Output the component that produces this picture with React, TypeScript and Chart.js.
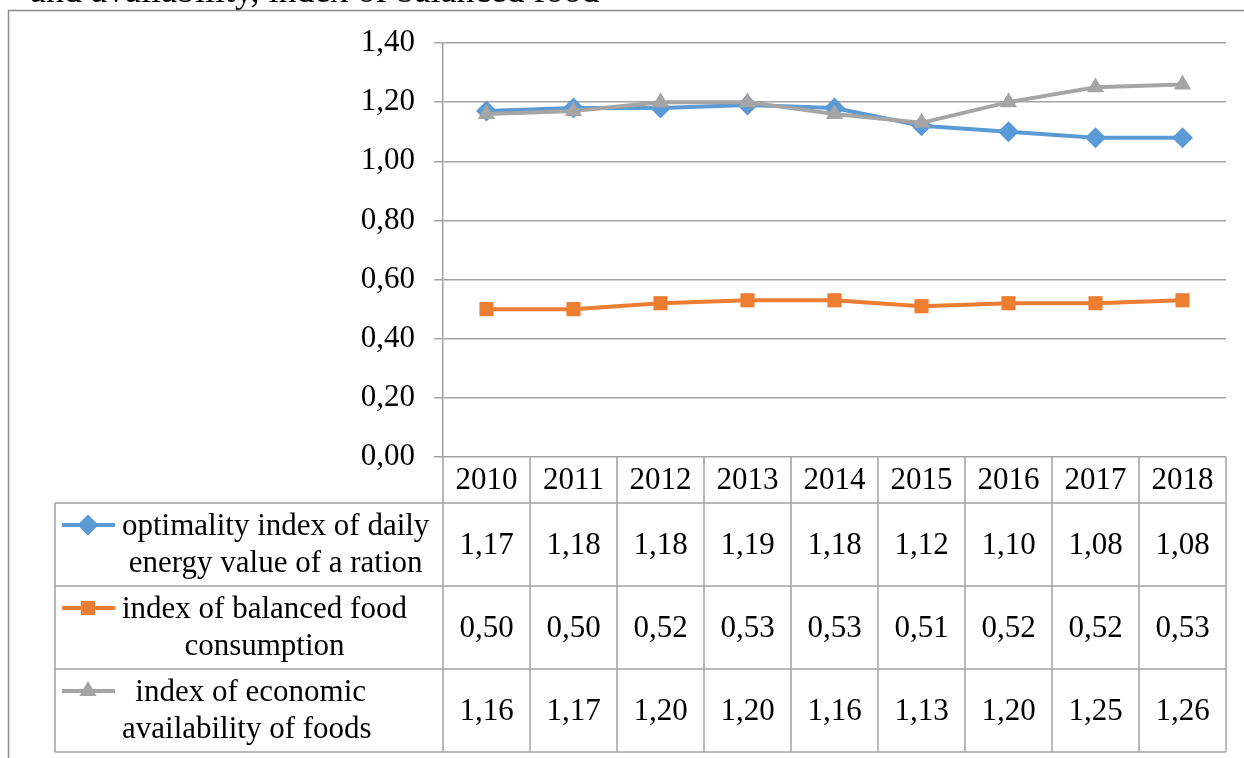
import React, { useEffect, useRef } from "react";
import { Chart, registerables } from "chart.js";
import { drawPoint } from "chart.js/helpers";

Chart.register(...registerables);

// Years shown along the category axis and in the table header
const years = ["2010", "2011", "2012", "2013", "2014", "2015", "2016", "2017", "2018"];

// Index values per year
const optimalityIndex = [1.17, 1.18, 1.18, 1.19, 1.18, 1.12, 1.1, 1.08, 1.08];
const balancedIndex = [0.5, 0.5, 0.52, 0.53, 0.53, 0.51, 0.52, 0.52, 0.53];
const availabilityIndex = [1.16, 1.17, 1.2, 1.2, 1.16, 1.13, 1.2, 1.25, 1.26];

// Series names, split the way they wrap in the table's legend column
const optimalityName = ["optimality index of daily", "energy value of a ration"];
const balancedName = ["index of balanced food", "consumption"];
const availabilityName = [" index of economic", "availability of foods"];

// Value axis labels
const yTickLabels = ["0,00", "0,20", "0,40", "0,60", "0,80", "1,00", "1,20", "1,40"];

// Last line of the paragraph above the figure, cut off by the frame
const captionTail = "and availability, index of balanced food";

const FONT = "'Liberation Serif', 'Times New Roman', serif";
const FONT_SIZE = 31;
const LINE_GRAY = "#a3a3a3";

const fmt = (v: number) => v.toFixed(2).replace(".", ",");

// Draws the frame around the chart and the data table below the plot
const dataTablePlugin = {
  id: "dataTable",
  beforeDraw(chart: any) {
    const { ctx, width, height } = chart;
    ctx.save();
    ctx.fillStyle = "#000";
    ctx.font = `36px ${FONT}`;
    ctx.textAlign = "left";
    ctx.textBaseline = "alphabetic";
    ctx.fillText(captionTail, 30, 1.5);

    ctx.strokeStyle = "#8c8c8c";
    ctx.lineWidth = 1.5;
    ctx.beginPath();
    ctx.moveTo(8.5, height);
    ctx.lineTo(8.5, 10.5);
    ctx.lineTo(width, 10.5);
    ctx.stroke();
    ctx.restore();
  },
  afterDraw(chart: any) {
    const { ctx, chartArea } = chart;
    const xs = chart.scales.x;
    const n = years.length;
    const colW = (chartArea.right - chartArea.left) / n;
    const centers = years.map((_, i) => xs.getPixelForValue(i));
    const edges = [chartArea.left, ...centers.map((c) => c + colW / 2)];

    const headTop = chartArea.bottom;
    const headBottom = headTop + 46;
    const rowH = 83;
    const tableBottom = headBottom + rowH * 3;
    const legendLeft = 55;

    ctx.save();
    ctx.strokeStyle = LINE_GRAY;
    ctx.lineWidth = 1.5;
    ctx.beginPath();
    edges.forEach((x) => {
      ctx.moveTo(x, headTop);
      ctx.lineTo(x, tableBottom);
    });
    ctx.moveTo(legendLeft, headBottom);
    ctx.lineTo(legendLeft, tableBottom);
    for (let r = 0; r <= 3; r++) {
      const y = headBottom + r * rowH;
      ctx.moveTo(legendLeft, y);
      ctx.lineTo(chartArea.right, y);
    }
    ctx.stroke();

    ctx.fillStyle = "#000";
    ctx.textAlign = "center";
    ctx.textBaseline = "middle";
    ctx.font = `${FONT_SIZE}px ${FONT}`;
    years.forEach((yr, i) => ctx.fillText(yr, centers[i], headTop + 24));

    chart.data.datasets.forEach((ds: any, r: number) => {
      const rowTop = headBottom + r * rowH;
      ds.data.forEach((v: number, i: number) => {
        ctx.fillText(fmt(v), centers[i], rowTop + rowH / 2 + 1);
      });

      // legend key: line with the series marker
      const keyY = rowTop + 22;
      ctx.strokeStyle = ds.borderColor;
      ctx.lineWidth = ds.borderWidth;
      ctx.beginPath();
      ctx.moveTo(62, keyY);
      ctx.lineTo(115, keyY);
      ctx.stroke();
      ctx.fillStyle = ds.backgroundColor;
      drawPoint(
        ctx,
        { pointStyle: ds.pointStyle, radius: ds.pointRadius, rotation: 0, borderWidth: 0 },
        88,
        keyY
      );

      // legend label, lines centred within the block
      const lines: string[] = ds.tableLabel;
      ctx.fillStyle = "#000";
      const blockW = Math.max(...lines.map((l) => ctx.measureText(l).width));
      lines.forEach((l, k) => {
        ctx.fillText(l, 122 + blockW / 2, rowTop + 24 + k * 36.5);
      });
    });
    ctx.restore();
  },
};

export default function App() {
  const canvasRef = useRef<HTMLCanvasElement | null>(null);

  useEffect(() => {
    if (!canvasRef.current) return;
    const chart = new Chart(canvasRef.current, {
      type: "line",
      data: {
        labels: years,
        datasets: [
          {
            label: optimalityName.join(" "),
            tableLabel: optimalityName,
            data: optimalityIndex,
            borderColor: "#5b9bd5",
            backgroundColor: "#5b9bd5",
            borderWidth: 4,
            pointStyle: "rectRot",
            pointRadius: 10.5,
            pointBorderWidth: 0,
            order: 3,
          },
          {
            label: balancedName.join(" "),
            tableLabel: balancedName,
            data: balancedIndex,
            borderColor: "#ed7d31",
            backgroundColor: "#ed7d31",
            borderWidth: 4,
            pointStyle: "rect",
            pointRadius: 10,
            pointBorderWidth: 0,
            order: 2,
          },
          {
            label: availabilityName.join(" "),
            tableLabel: availabilityName,
            data: availabilityIndex,
            borderColor: "#a5a5a5",
            backgroundColor: "#a5a5a5",
            borderWidth: 4,
            pointStyle: "triangle",
            pointRadius: 10,
            pointBorderWidth: 0,
            order: 1,
          },
        ] as any,
      },
      options: {
        animation: false,
        responsive: false,
        maintainAspectRatio: false,
        layout: { padding: { left: 343, right: 18, top: 43, bottom: 301 } },
        plugins: { legend: { display: false }, tooltip: { enabled: false }, title: { display: false } },
        elements: { line: { tension: 0 } },
        scales: {
          x: { type: "category", display: false, offset: true },
          y: {
            min: 0,
            max: 1.4,
            afterFit: (s: any) => {
              s.width = 100;
            },
            ticks: {
              stepSize: 0.2,
              padding: 19,
              color: "#000",
              font: { family: FONT, size: FONT_SIZE },
              callback: (_v: any, i: number) => yTickLabels[i],
            },
            grid: { color: LINE_GRAY, lineWidth: 1.5, tickLength: 9, tickColor: LINE_GRAY },
            border: { color: LINE_GRAY, width: 1.5 },
          },
        },
      },
      plugins: [dataTablePlugin],
    });
    return () => chart.destroy();
  }, []);

  return (
    <div style={{ position: "fixed", left: 0, top: 0, width: 1244, height: 758, background: "#fff", overflow: "hidden" }}>
      <canvas ref={canvasRef} width={1244} height={758} style={{ position: "absolute", left: 0, top: 0 }} />
    </div>
  );
}
